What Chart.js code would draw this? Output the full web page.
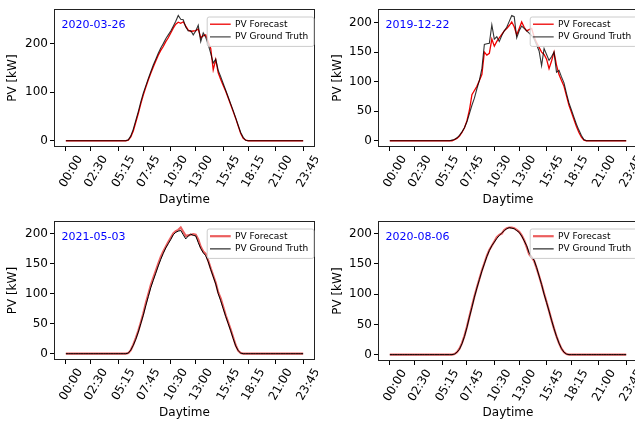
<!DOCTYPE html>
<html>
<head>
<meta charset="utf-8">
<script src="https://cdn.jsdelivr.net/npm/chart.js@4"></script>
<style>
  html, body { margin: 0; padding: 0; background: #fff; }
  body { width: 635px; height: 424px; overflow: hidden; position: relative; }
  canvas { position: absolute; }
</style>
</head>
<body>
<canvas id="c1" width="318" height="211" style="left:0px;top:0px"></canvas>
<canvas id="c2" width="323" height="211" style="left:318px;top:0px"></canvas>
<canvas id="c3" width="318" height="212" style="left:0px;top:212px"></canvas>
<canvas id="c4" width="323" height="212" style="left:318px;top:212px"></canvas>
<script>
// Daten: 96 Werte pro Tag (15-Minuten-Raster)
const tickPos = [0, 10, 21, 31, 42, 52, 63, 73, 84, 95];
const tickLabels = ['00:00', '02:30', '05:15', '07:45', '10:30', '13:00', '15:45', '18:15', '21:00', '23:45'];
const dates = ['2020-03-26', '2019-12-22', '2021-05-03', '2020-08-06'];
const yTicksA = [0, 100, 200];
const yTicksB = [0, 50, 100, 150, 200];

const truth1 = [0,0,0,0,0,0,0,0,0,0,0,0,0,0,0,0,0,0,0,0,0,0,0,0,0,
  2,10,24,42,60,80,98,113,128,142,
  156,168,180,191,200,210,218,226,236,246,
  258,250,249,234,226,227,218,226,238,204,
  222,213,198,180,160,168,145,132,118,104,
  90,76,62,47,32,17,7,1,
  0,0,0,0,0,0,0,0,0,0,0,0,0,0,0,0,0,0,0,0,0,0,0];
const forecast1 = [0,0,0,0,0,0,0,0,0,0,0,0,0,0,0,0,0,0,0,0,0,0,0,0,0,
  1,8,20,38,56,76,94,110,125,139,
  152,164,176,186,194,204,212,222,232,240,
  244,242,245,236,228,225,226,227,230,212,
  216,218,204,190,146,167,140,126,114,102,
  88,74,60,46,30,15,5,1,
  0,0,0,0,0,0,0,0,0,0,0,0,0,0,0,0,0,0,0,0,0,0,0];

const truth2 = [0,0,0,0,0,0,0,0,0,0,0,0,0,0,0,0,0,0,0,0,0,0,0,0,0,
  1,2,5,9,15,22,32,46,60,72,
  88,102,122,163,164,165,196,172,176,168,
  178,186,192,202,212,210,174,186,194,190,
  186,182,178,172,162,152,127,156,146,136,
  142,150,116,119,108,98,80,64,52,40,
  28,18,9,2,
  0,0,0,0,0,0,0,0,0,0,0,0,0,0,0,0,0];
const forecast2 = [0,0,0,0,0,0,0,0,0,0,0,0,0,0,0,0,0,0,0,0,0,0,0,0,0,
  0,2,4,8,14,22,34,52,78,85,
  92,102,112,150,145,148,172,160,168,174,
  180,186,190,195,201,193,179,190,201,192,
  186,188,190,176,166,158,150,146,138,122,
  135,150,128,112,102,92,76,60,48,36,
  24,14,6,1,
  0,0,0,0,0,0,0,0,0,0,0,0,0,0,0,0,0];

const truth3 = [0,0,0,0,0,0,0,0,0,0,0,0,0,0,0,0,0,0,0,0,0,0,0,0,0,
  1,6,14,24,36,50,64,80,95,110,
  122,134,146,157,167,176,183,190,198,202,
  204,205,198,191,196,199,197,196,185,175,
  168,163,153,140,128,116,100,88,75,62,
  50,38,25,13,5,1,
  0,0,0,0,0,0,0,0,0,0,0,0,0,0,0,0,0,0,0,0,0,0,0,0,0];
const forecast3 = [0,0,0,0,0,0,0,0,0,0,0,0,0,0,0,0,0,0,0,0,0,0,0,0,0,
  1,6,15,26,38,52,67,84,99,114,
  126,138,150,161,170,178,186,193,200,204,
  206,210,203,196,197,198,199,198,190,178,
  170,166,155,142,130,118,102,92,78,64,
  52,40,27,14,5,1,
  0,0,0,0,0,0,0,0,0,0,0,0,0,0,0,0,0,0,0,0,0,0,0,0,0];

const truth4 = [0,0,0,0,0,0,0,0,0,0,0,0,0,0,0,0,0,0,0,0,0,0,0,0,0,0,
  1,4,9,18,30,45,62,78,95,
  110,124,138,150,162,172,180,186,192,197,
  201,205,208,210,209,208,205,202,196,188,
  180,168,162,156,144,130,116,100,86,72,
  57,43,30,19,10,4,1,
  0,0,0,0,0,0,0,0,0,0,0,0,0,0,0,0,0,0,0,0,0,0,0,0];
const forecast4 = [0,0,0,0,0,0,0,0,0,0,0,0,0,0,0,0,0,0,0,0,0,0,0,0,0,0,
  1,4,10,19,31,46,63,80,96,
  111,125,139,151,163,173,180,187,194,198,
  200,206,209,210,210,209,206,203,197,189,
  178,166,161,155,143,130,116,101,87,72,
  57,43,30,19,10,4,1,
  0,0,0,0,0,0,0,0,0,0,0,0,0,0,0,0,0,0,0,0,0,0,0,0];

const FONT = "'DejaVu Sans', sans-serif";
Chart.defaults.font.family = FONT;
Chart.defaults.color = '#000';

// Rahmen, Datum und Legende innerhalb der Achsen
const decor = {
  id: 'decor',
  afterDraw(chart, args, opts) {
    const ctx = chart.ctx;
    const a = chart.chartArea;
    ctx.save();
    ctx.strokeStyle = '#222';
    ctx.lineWidth = 1;
    ctx.strokeRect(Math.round(a.left) + 0.5, Math.round(a.top) + 0.5,
      Math.round(a.right - a.left) - 1, Math.round(a.bottom - a.top) - 1);

    ctx.fillStyle = '#0000ff';
    ctx.font = '11px ' + FONT;
    ctx.textBaseline = 'alphabetic';
    ctx.textAlign = 'left';
    ctx.fillText(opts.date, a.left + 7.5, a.top + 19);

    const lw = 106.7, lh = 29.4;
    const lx = a.right - 108.3, ly = a.top + 7.3;
    ctx.beginPath();
    ctx.roundRect(lx + 0.5, ly + 0.5, lw, lh, 2);
    ctx.fillStyle = 'rgba(255,255,255,0.8)';
    ctx.fill();
    ctx.strokeStyle = '#cccccc';
    ctx.stroke();
    ctx.font = '9px ' + FONT;
    ctx.textBaseline = 'middle';
    chart.data.datasets.forEach((ds, k) => {
      const yy = ly + 7.7 + k * 12.7;
      ctx.beginPath();
      ctx.moveTo(lx + 3.3, yy);
      ctx.lineTo(lx + 24, yy);
      ctx.strokeStyle = ds.borderColor;
      ctx.lineWidth = ds.borderWidth;
      ctx.stroke();
      ctx.fillStyle = '#000';
      ctx.fillText(ds.label, lx + 28.3, yy);
    });
    ctx.restore();
  }
};

const panels = [
  { id: 'c1', truth: truth1, forecast: forecast1, date: dates[0], yTicks: yTicksA,
    pad: { left: 2, top: 5, right: 3, bottom: 0 }, yW: 52, xH: 64, soft: false },
  { id: 'c2', truth: truth2, forecast: forecast2, date: dates[1], yTicks: yTicksB,
    pad: { left: 9, top: 5, right: 3, bottom: 0 }, yW: 51, xH: 64, soft: false },
  { id: 'c3', truth: truth3, forecast: forecast3, date: dates[2], yTicks: yTicksB,
    pad: { left: 2, top: 6, right: 3, bottom: 0 }, yW: 52, xH: 64, soft: true },
  { id: 'c4', truth: truth4, forecast: forecast4, date: dates[3], yTicks: yTicksB,
    pad: { left: 9, top: 6, right: 3, bottom: 0 }, yW: 51, xH: 63, soft: true }
];

function makePanel(p) {
  const n = p.truth.length - 1;
  const top = Math.max(...p.truth, ...p.forecast);
  const xm = 0.05 * n, ym = 0.05 * top;
  const redStyle = p.soft
    ? { color: 'rgba(228,40,40,0.75)', width: 2.2 }
    : { color: '#ee0000', width: 1.3 };
  const blackStyle = p.soft
    ? { color: '#000000', width: 1 }
    : { color: 'rgba(0,0,0,0.8)', width: 1.1 };

  new Chart(document.getElementById(p.id), {
    type: 'line',
    data: {
      datasets: [{
        label: 'PV Forecast',
        data: p.forecast.map((v, i) => ({ x: i, y: v })),
        borderColor: redStyle.color,
        borderWidth: redStyle.width,
        order: 1
      }, {
        label: 'PV Ground Truth',
        data: p.truth.map((v, i) => ({ x: i, y: v })),
        borderColor: blackStyle.color,
        borderWidth: blackStyle.width,
        order: 0
      }]
    },
    options: {
      responsive: false,
      animation: false,
      events: [],
      layout: { padding: p.pad },
      elements: { point: { radius: 0 }, line: { tension: 0 } },
      plugins: {
        legend: { display: false },
        tooltip: { enabled: false },
        decor: { date: p.date }
      },
      scales: {
        x: {
          type: 'linear',
          min: -xm,
          max: n + xm,
          afterBuildTicks: s => { s.ticks = tickPos.map(v => ({ value: v })); },
          afterFit: s => { s.height = p.xH; },
          ticks: {
            callback: (v, i) => tickLabels[i],
            minRotation: 60, maxRotation: 60, autoSkip: false,
            padding: 2, labelOffset: 14,
            font: { size: 12 }
          },
          grid: { drawOnChartArea: false, tickLength: 4, tickColor: '#000' },
          border: { display: false },
          title: { display: true, text: 'Daytime', font: { size: 12 } }
        },
        y: {
          min: -ym,
          max: top + ym,
          afterBuildTicks: s => { s.ticks = p.yTicks.map(v => ({ value: v })); },
          afterFit: s => { s.width = p.yW; },
          ticks: { padding: 2, font: { size: 12 } },
          grid: { drawOnChartArea: false, tickLength: 4, tickColor: '#000' },
          border: { display: false },
          title: { display: true, text: 'PV [kW]', font: { size: 12 } }
        }
      }
    },
    plugins: [decor]
  });
}

panels.forEach(makePanel);
</script>
</body>
</html>
